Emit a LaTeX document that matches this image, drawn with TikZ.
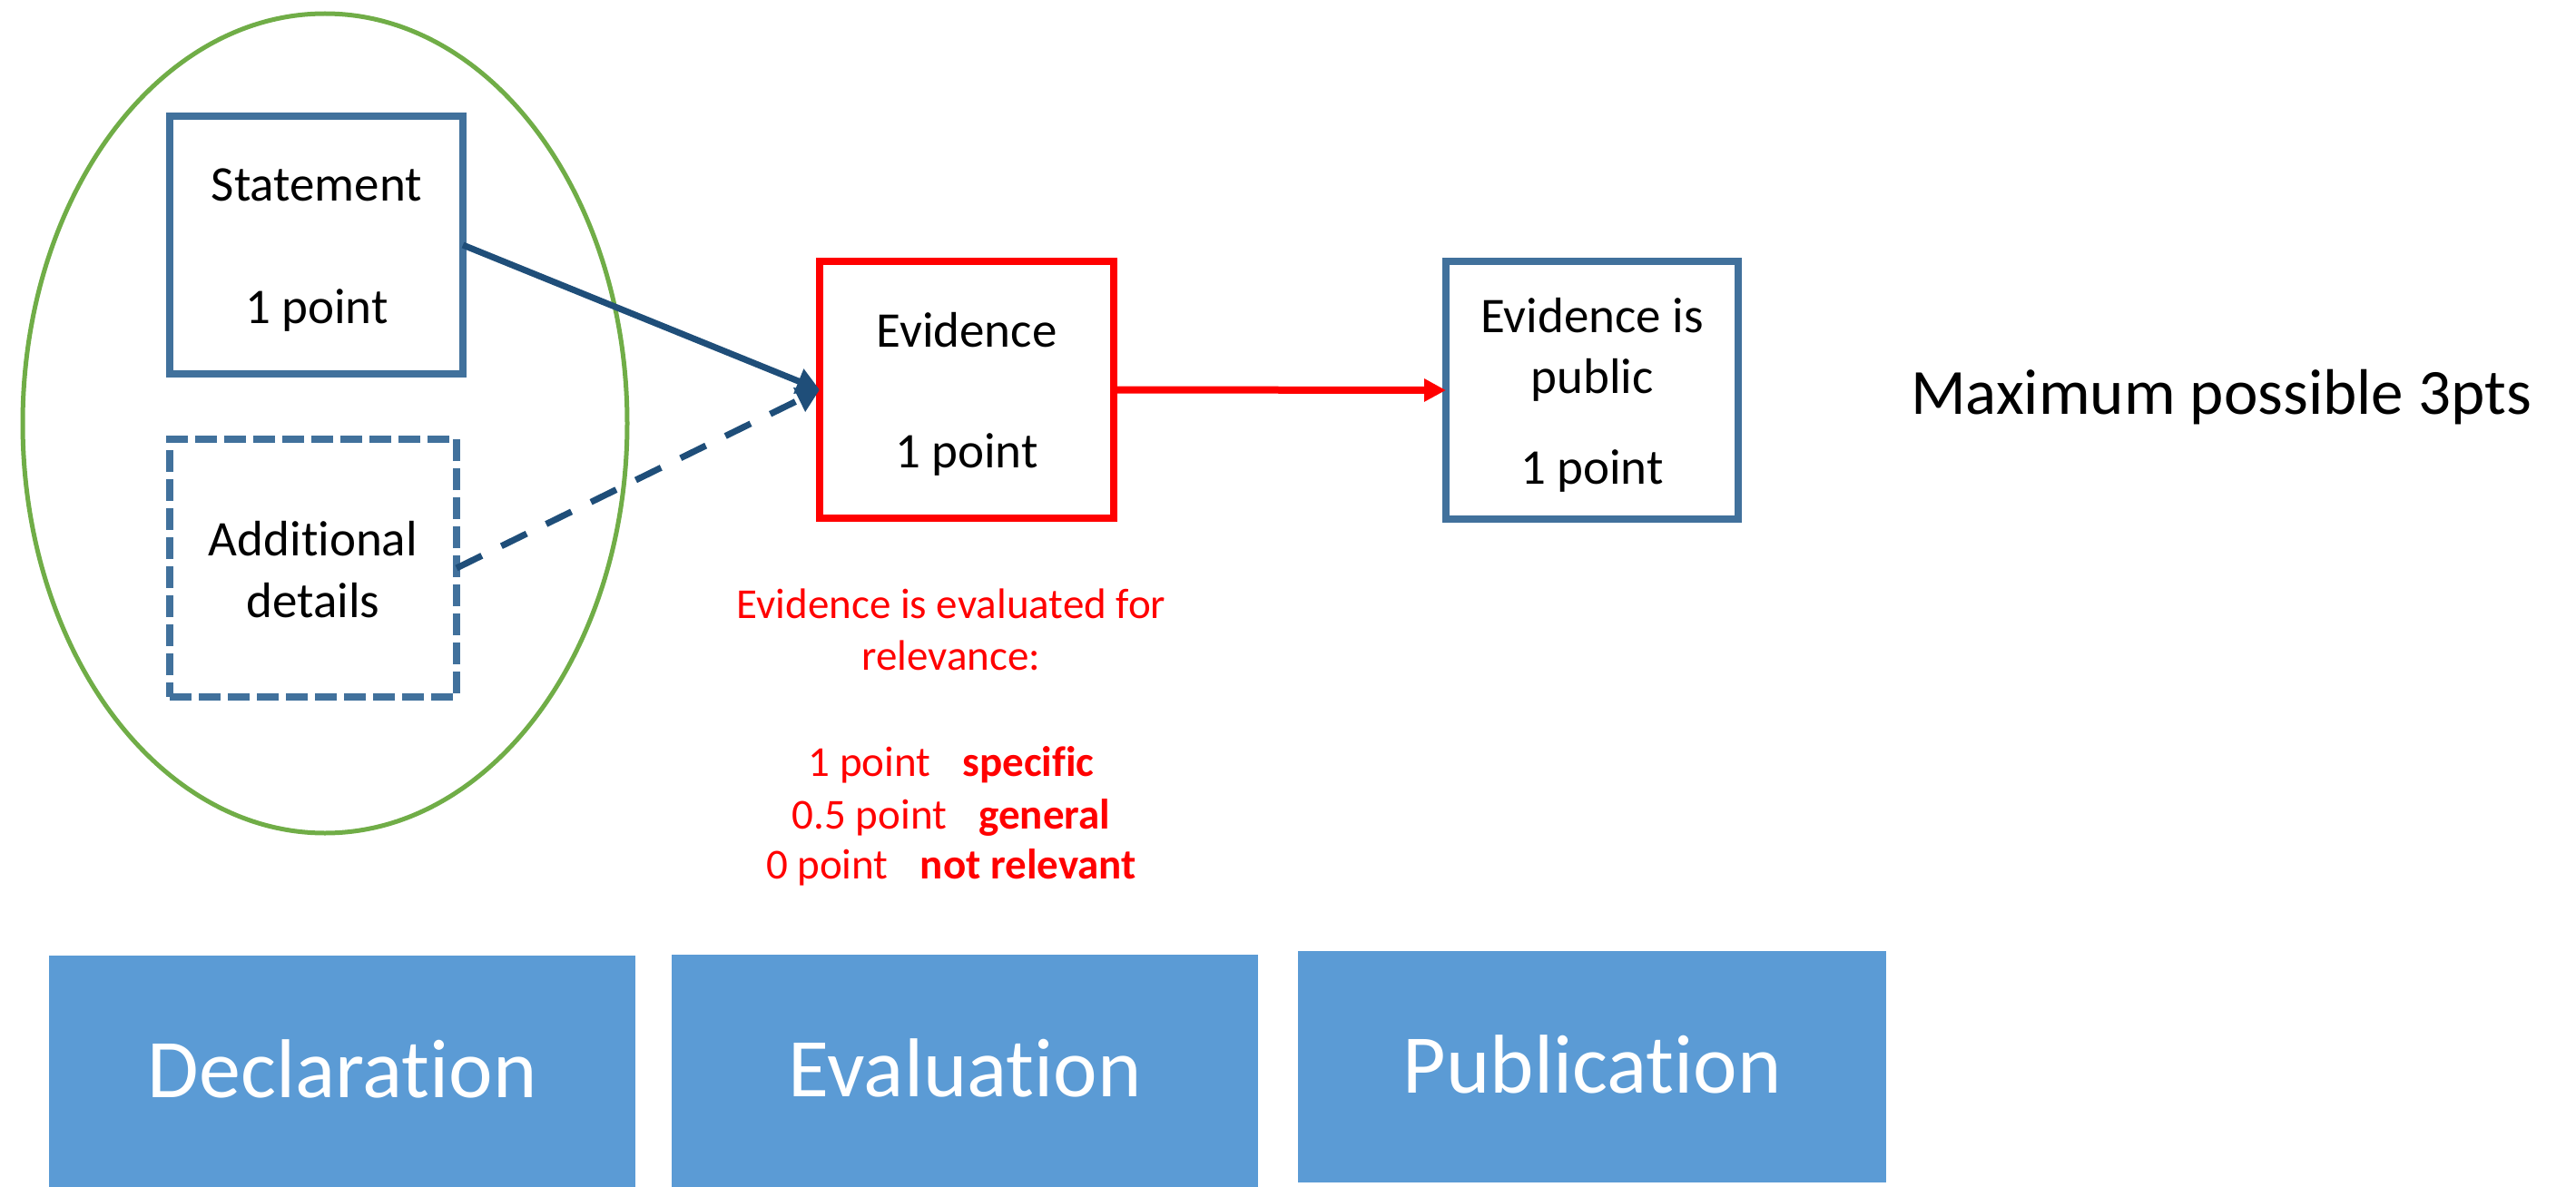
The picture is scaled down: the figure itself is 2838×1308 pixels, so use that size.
\documentclass[tikz,border=0pt]{standalone}
\usepackage{fontspec}
\setmainfont{Carlito}[Ligatures=NoCommon]
\usetikzlibrary{arrows.meta,shapes.geometric}
\definecolor{boxblue}{HTML}{41719C}
\definecolor{arrowblue}{HTML}{1F4E79}
\definecolor{groupgreen}{HTML}{70AD47}
\definecolor{phasefill}{HTML}{5B9BD5}
\definecolor{alertred}{HTML}{FF0000}
\begin{document}
\begin{tikzpicture}[x=1pt,y=-1pt,
  stagebox/.style={draw=boxblue, line width=8pt, rectangle, inner sep=0pt, outer sep=0pt,
    minimum width=323pt, minimum height=284pt},
  boxtext/.style={anchor=base, inner sep=0pt, font=\fontsize{55pt}{66pt}\selectfont},
  notetext/.style={anchor=base, inner sep=0pt, text=alertred, font=\fontsize{47pt}{57pt}\selectfont},
  phase/.style={fill=phasefill, draw=none, rectangle, anchor=north west, inner sep=0pt,
    minimum width=646pt, minimum height=255pt, text=white, text height=57pt, text depth=0pt,
    font=\fontsize{92pt}{110pt}\selectfont},
  flow/.style={arrowblue, line width=7pt, -{Triangle[length=25pt,width=28pt]}}]
\useasboundingbox (0,0) rectangle (2838,1308);

% declaration group
\node[ellipse, draw=groupgreen, line width=5pt, inner sep=0pt, outer sep=0pt,
  minimum width=666pt, minimum height=903pt] (grp) at (358,466.5) {};
\node[stagebox] (st) at (348.5,270) {};
\node[stagebox, dash pattern=on 24pt off 8pt, minimum width=316pt] (ad) at (345,626) {};
\node[boxtext] (stA) at (349,222) {Statement};
\node[boxtext] (stB) at (349,356) {1 point};
\node[boxtext] (adA) at (345,612) {Additional};
\node[boxtext] (adB) at (345,680) {details};

% evaluation and publication
\node[stagebox, draw=alertred, minimum width=324pt, minimum height=283pt] (ev) at (1065,429.5) {};
\node[stagebox, minimum width=322pt] (pub) at (1754,430) {};
\node[boxtext] (evA) at (1065,382) {Evidence};
\node[boxtext] (evB) at (1065,515) {1 point};
\node[boxtext] (pubA) at (1754,366) {Evidence is};
\node[boxtext] (pubB) at (1754,433) {public};
\node[boxtext] (pubC) at (1754,533) {1 point};

% connectors
\draw[flow] (st.east) -- (ev.west);
\draw[flow, dash pattern=on 31pt off 24pt] (ad.east) -- (ev.west);
\draw[alertred, line width=8pt, -{Triangle[length=24pt,width=24pt]}] (ev.east) -- (pub.west);

% relevance scoring
\node[notetext] (n1) at (1048,681) {Evidence is evaluated for};
\node[notetext] (n2) at (1048,738) {relevance:};
\node[notetext] (n3) at (1048,855) {1 point\hspace{0.75em}\textbf{specific}};
\node[notetext] (n4) at (1048,913) {0.5 point\hspace{0.75em}\textbf{general}};
\node[notetext] (n5) at (1048,968) {0 point\hspace{0.75em}\textbf{not relevant}};

\node[anchor=base, inner sep=0pt, font=\fontsize{71pt}{85pt}\selectfont] (maxpts) at (2447,456) {Maximum possible 3pts};

% phase bars
\node[phase] (decl) at (54,1053) {Declaration};
\node[phase, minimum height=256pt] (eval) at (740,1052) {Evaluation};
\node[phase, minimum width=648pt] (publ) at (1430,1048) {Publication};
\end{tikzpicture}
\end{document}
